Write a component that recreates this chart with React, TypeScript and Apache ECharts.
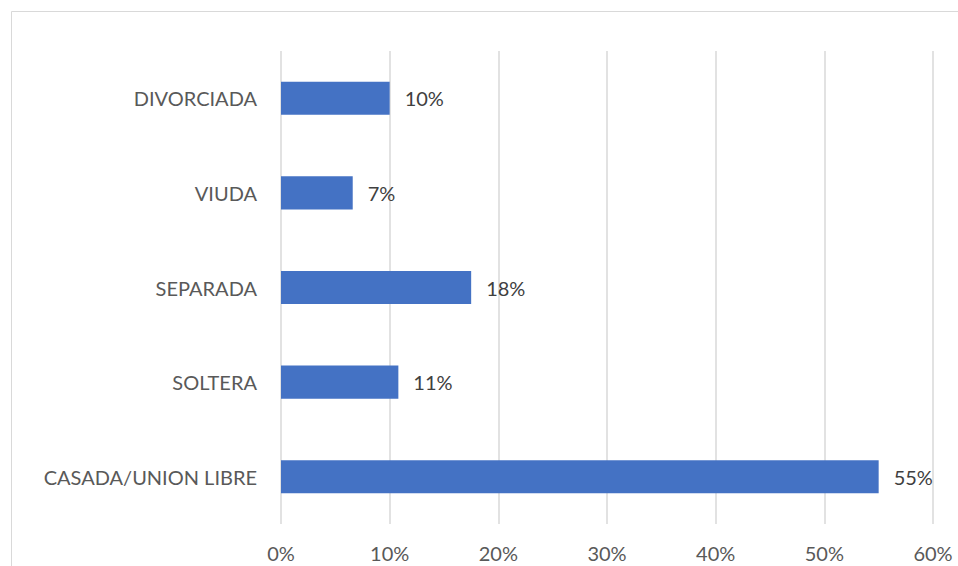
import React, { useEffect, useRef } from "react";
import * as echarts from "echarts";

const categories = ["CASADA/UNION LIBRE", "SOLTERA", "SEPARADA", "VIUDA", "DIVORCIADA"];
const values = [0.55, 0.108, 0.175, 0.066, 0.1];
const labels = ["55%", "11%", "18%", "7%", "10%"];

export default function App() {
  const ref = useRef<HTMLDivElement>(null);
  useEffect(() => {
    if (!ref.current) return;
    const chart = echarts.init(ref.current, null, { renderer: "svg" });
    const font = "Lato, 'Open Sans', sans-serif";
    chart.setOption({
      animation: false,
      backgroundColor: "#ffffff",
      graphic: [
        {
          type: "rect",
          shape: { x: 11.5, y: 11.5, width: 1000, height: 600 },
          style: { fill: "none", stroke: "#d9d9d9", lineWidth: 1 },
          silent: true,
        },
      ],
      grid: { left: 281, right: 25, top: 51, bottom: 42, containLabel: false },
      xAxis: {
        type: "value",
        min: 0,
        max: 0.6,
        interval: 0.1,
        axisLine: { show: false },
        axisTick: { show: false },
        splitLine: { show: true, lineStyle: { color: "#d9d9d9", width: 1.5 } },
        axisLabel: {
          color: "#595959",
          fontSize: 20,
          fontFamily: font,
          margin: 19,
          formatter: (v: number) => Math.round(v * 100) + "%",
        },
      },
      yAxis: {
        type: "category",
        data: categories,
        axisLine: { show: false },
        axisTick: { show: false },
        axisLabel: { color: "#595959", fontSize: 20, fontFamily: font, margin: 24 },
      },
      series: [
        {
          type: "bar",
          data: values,
          barCategoryGap: "65%",
          itemStyle: { color: "#4472C4" },
          label: {
            show: true,
            position: "right",
            distance: 15,
            color: "#404040",
            fontSize: 20,
            fontFamily: font,
            formatter: (p: any) => labels[p.dataIndex],
          },
        },
      ],
    });
    return () => chart.dispose();
  }, []);
  return (
    <div
      ref={ref}
      style={{ position: "fixed", left: 0, top: 0, width: 958, height: 566 }}
    />
  );
}
